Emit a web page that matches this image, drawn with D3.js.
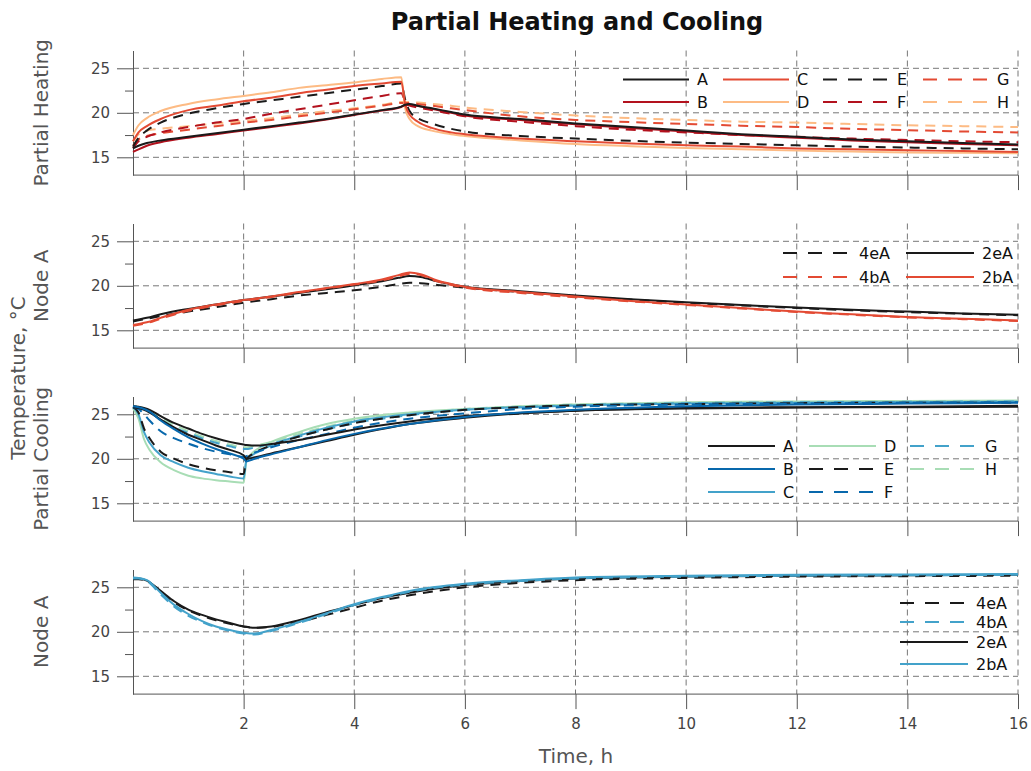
<!DOCTYPE html>
<html>
<head>
<meta charset="utf-8">
<script src="https://cdn.jsdelivr.net/npm/d3@7"></script>
<style>
  body { margin: 0; background: #fff; }
  text { font-family: "DejaVu Sans", Lato, sans-serif; fill: #444; }
  .axis path, .axis line { stroke: #555; }
  .axis text { font-size: 15px; fill: #444; font-family: "DejaVu Sans", sans-serif; }
  .grid line { stroke: #777; stroke-dasharray: 6,4; stroke-width: 1; }
</style>
</head>
<body>
<div id="chart"></div>
<script>
// ---- data: partial heating (panel 1) ----
const heatT = [0, 0.1, 0.25, 0.5, 1, 1.5, 2, 2.5, 3, 3.5, 4, 4.5, 4.85, 4.92, 5.0, 5.15, 5.4, 5.75, 6, 7, 8, 9, 10, 11, 12, 13, 14, 15, 16]
const heatA = [16.0, 16.3, 16.6, 16.9, 17.3, 17.7, 18.1, 18.5, 18.9, 19.3, 19.8, 20.3, 20.7, 20.9, 21.0, 20.8, 20.5, 20.1, 19.8, 19.3, 18.8, 18.4, 18.0, 17.6, 17.3, 17.0, 16.8, 16.6, 16.45]
const heatB = [15.6, 15.9, 16.3, 16.7, 17.2, 17.6, 18.0, 18.4, 18.8, 19.25, 19.75, 20.25, 20.65, 20.85, 20.9, 20.75, 20.45, 20.0, 19.7, 19.2, 18.7, 18.3, 17.9, 17.5, 17.2, 16.9, 16.7, 16.5, 16.35]
const heatC = [16.8, 17.8, 18.5, 19.3, 20.3, 20.8, 21.3, 21.7, 22.2, 22.6, 23.0, 23.3, 23.5, 21.0, 19.8, 19.0, 18.3, 17.8, 17.6, 17.1, 16.8, 16.55, 16.35, 16.2, 16.0, 15.9, 15.8, 15.7, 15.6]
const heatD = [17.5, 18.6, 19.4, 20.2, 21.0, 21.5, 21.9, 22.3, 22.8, 23.1, 23.4, 23.8, 24.0, 20.5, 19.3, 18.5, 18.0, 17.6, 17.4, 16.9, 16.5, 16.25, 16.05, 15.9, 15.75, 15.65, 15.55, 15.5, 15.45]
const heatE = [16.2, 17.2, 18.0, 18.9, 19.9, 20.5, 21.0, 21.4, 21.8, 22.2, 22.6, 23.0, 23.3, 21.5, 20.2, 19.4, 18.8, 18.2, 17.9, 17.4, 17.1, 16.85, 16.65, 16.5, 16.35, 16.2, 16.1, 16.0, 15.9]
const heatF = [16.0, 16.8, 17.3, 17.8, 18.4, 18.9, 19.3, 19.9, 20.4, 20.9, 21.4, 21.9, 22.2, 21.3, 20.8, 20.6, 20.3, 19.9, 19.6, 19.0, 18.5, 18.1, 17.8, 17.5, 17.3, 17.1, 16.95, 16.8, 16.7]
const heatG = [16.3, 17.0, 17.4, 17.7, 18.1, 18.5, 18.9, 19.2, 19.6, 20.0, 20.4, 20.8, 21.1, 21.1, 21.1, 21.0, 20.8, 20.5, 20.3, 19.6, 19.2, 18.95, 18.75, 18.55, 18.4, 18.2, 18.05, 17.9, 17.8]
const heatH = [16.8, 17.6, 18.0, 18.2, 18.5, 18.8, 19.1, 19.4, 19.8, 20.2, 20.5, 20.9, 21.2, 21.2, 21.2, 21.15, 21.0, 20.8, 20.6, 20.1, 19.7, 19.4, 19.2, 19.0, 18.9, 18.75, 18.6, 18.5, 18.4]

// ---- data: node A heating (panel 2) ----
const nodeHT = [0, 0.25, 0.5, 1, 1.5, 2, 2.5, 3, 3.5, 4, 4.5, 4.8, 5.0, 5.2, 5.5, 6, 7, 8, 9, 10, 11, 12, 13, 14, 15, 16]
const nodeH4e = [16.0, 16.3, 16.6, 17.1, 17.6, 18.1, 18.5, 18.9, 19.2, 19.5, 19.9, 20.2, 20.35, 20.3, 20.1, 19.8, 19.3, 18.85, 18.45, 18.1, 17.8, 17.5, 17.25, 17.05, 16.85, 16.7]
const nodeH4b = [15.5, 15.8, 16.3, 17.2, 17.8, 18.3, 18.75, 19.25, 19.7, 20.15, 20.6, 21.05, 21.35, 21.2, 20.5, 19.8, 19.2, 18.7, 18.25, 17.85, 17.45, 17.05, 16.75, 16.45, 16.25, 16.05]
const nodeH2e = [16.1, 16.4, 16.8, 17.4, 17.9, 18.4, 18.8, 19.2, 19.6, 20.05, 20.5, 20.9, 21.1, 21.0, 20.5, 19.9, 19.4, 18.9, 18.5, 18.15, 17.85, 17.55, 17.3, 17.1, 16.9, 16.75]
const nodeH2b = [15.6, 15.9, 16.4, 17.3, 17.9, 18.4, 18.8, 19.3, 19.75, 20.2, 20.7, 21.2, 21.5, 21.3, 20.6, 19.9, 19.3, 18.8, 18.3, 17.9, 17.5, 17.1, 16.8, 16.5, 16.3, 16.1]

// ---- data: partial cooling (panel 3) ----
const coolT = [0, 0.1, 0.2, 0.3, 0.5, 0.75, 1, 1.25, 1.5, 1.75, 2, 2.05, 2.15, 2.3, 2.5, 3, 3.5, 4, 5, 6, 7, 8, 10, 12, 14, 16]
const coolA = [25.8, 25.7, 25.5, 25.2, 24.4, 23.5, 22.7, 22.1, 21.5, 21.0, 20.4, 20.0, 20.1, 20.3, 20.6, 21.3, 22.0, 22.7, 23.9, 24.6, 25.1, 25.4, 25.7, 25.8, 25.85, 25.95]
const coolB = [25.9, 25.8, 25.6, 25.3, 24.3, 23.3, 22.4, 21.7, 21.1, 20.6, 20.0, 19.7, 19.9, 20.2, 20.5, 21.3, 22.1, 22.8, 23.9, 24.7, 25.2, 25.5, 25.9, 26.1, 26.2, 26.3]
const coolC = [25.8, 25.0, 23.0, 21.8, 20.4, 19.6, 19.0, 18.6, 18.3, 18.0, 17.8, 19.8, 20.4, 20.9, 21.5, 22.6, 23.5, 24.2, 25.0, 25.5, 25.8, 26.0, 26.2, 26.3, 26.35, 26.4]
const coolD = [25.7, 24.5, 22.2, 21.0, 19.6, 18.7, 18.1, 17.8, 17.6, 17.45, 17.3, 19.8, 20.6, 21.3, 21.9, 23.0, 23.9, 24.5, 25.2, 25.6, 25.9, 26.1, 26.35, 26.45, 26.5, 26.55]
const coolE = [25.8, 25.2, 23.4, 22.3, 20.8, 20.0, 19.4, 19.0, 18.7, 18.5, 18.3, 20.0, 20.5, 21.0, 21.5, 22.5, 23.3, 24.0, 24.9, 25.5, 25.8, 26.0, 26.15, 26.25, 26.3, 26.3]
const coolF = [25.8, 25.6, 25.0, 24.3, 23.1, 22.3, 21.7, 21.2, 20.8, 20.5, 20.2, 20.3, 20.6, 20.9, 21.3, 22.1, 22.8, 23.5, 24.5, 25.1, 25.6, 25.85, 26.1, 26.2, 26.3, 26.35]
const coolG = [25.9, 25.8, 25.6, 25.3, 24.4, 23.5, 22.9, 22.3, 21.8, 21.4, 21.1, 21.1, 21.2, 21.4, 21.7, 22.5, 23.3, 24.0, 24.9, 25.5, 25.8, 26.0, 26.25, 26.35, 26.4, 26.45]
const coolH = [25.9, 25.8, 25.7, 25.4, 24.6, 23.8, 23.1, 22.5, 22.0, 21.6, 21.3, 21.3, 21.4, 21.6, 21.9, 22.8, 23.6, 24.3, 25.1, 25.6, 25.9, 26.1, 26.3, 26.4, 26.45, 26.5]
// extra black curve drawn in the cooling panel without legend entry
const coolX = [25.9, 25.85, 25.7, 25.5, 24.8, 24.0, 23.4, 22.8, 22.3, 21.9, 21.6, 21.55, 21.5, 21.5, 21.65, 22.1, 22.7, 23.3, 24.2, 24.8, 25.15, 25.4, 25.65, 25.75, 25.8, 25.85]

// ---- data: node A cooling (panel 4) ----
const nodeCT = [0, 0.1, 0.25, 0.5, 0.75, 1, 1.25, 1.5, 1.75, 2, 2.2, 2.5, 3, 3.5, 4, 4.5, 5, 6, 7, 8, 10, 12, 14, 16]
const nodeC4e = [25.9, 25.9, 25.7, 24.5, 23.3, 22.4, 21.8, 21.3, 20.9, 20.6, 20.45, 20.55, 21.1, 21.9, 22.7, 23.5, 24.1, 25.0, 25.5, 25.8, 26.05, 26.2, 26.25, 26.3]
const nodeC4b = [26.0, 26.0, 25.7, 24.2, 22.8, 21.8, 21.1, 20.5, 20.1, 19.8, 19.7, 20.1, 21.0, 22.0, 23.0, 23.8, 24.5, 25.3, 25.7, 26.0, 26.2, 26.3, 26.35, 26.4]
const nodeC2e = [26.0, 26.0, 25.75, 24.6, 23.4, 22.5, 21.9, 21.4, 21.0, 20.6, 20.45, 20.6, 21.3, 22.2, 23.0, 23.8, 24.4, 25.25, 25.7, 26.0, 26.2, 26.3, 26.35, 26.4]
const nodeC2b = [26.1, 26.05, 25.8, 24.4, 23.0, 22.0, 21.2, 20.6, 20.2, 19.9, 19.8, 20.2, 21.1, 22.1, 23.1, 23.9, 24.6, 25.4, 25.8, 26.1, 26.3, 26.4, 26.45, 26.5]

const xTicks = [2, 4, 6, 8, 10, 12, 14, 16]
const yTicks = [15, 20, 25]
const yMinor = [17.5, 22.5]

const panelNames = ["Partial Heating", "Node A", "Partial Cooling", "Node A"]

// colors
const BLACK = "#1a1a1a"
const RED_D = "#b3121e", RED = "#e34a33", ORANGE = "#fdbb84"
const BLUE_D = "#0868ac", BLUE = "#43a2ca", GREEN = "#a8ddb5"

function mk(name, t, v, color, dash) { return { name, t, v, color, dash } }

const panels = [
  {
    series: [
      mk("A", heatT, heatA, BLACK, false), mk("B", heatT, heatB, RED_D, false),
      mk("C", heatT, heatC, RED, false), mk("D", heatT, heatD, ORANGE, false),
      mk("E", heatT, heatE, BLACK, true), mk("F", heatT, heatF, RED_D, true),
      mk("G", heatT, heatG, RED, true), mk("H", heatT, heatH, ORANGE, true)
    ],
    drawOrder: ["H", "G", "F", "E", "D", "C", "B", "A"],
    legend: { cols: 4, rows: 2, x0: 623, y0: 79.5, colW: 100, rowH: 22.5, lineW: 66 }
  },
  {
    series: [
      mk("4eA", nodeHT, nodeH4e, BLACK, true), mk("4bA", nodeHT, nodeH4b, RED, true),
      mk("2eA", nodeHT, nodeH2e, BLACK, false), mk("2bA", nodeHT, nodeH2b, RED, false)
    ],
    drawOrder: ["4eA", "2eA", "4bA", "2bA"],
    legend: { cols: 2, rows: 2, x0: 783, y0: 253, colW: 123, rowH: 24, lineW: 68 }
  },
  {
    series: [
      mk("A", coolT, coolA, BLACK, false), mk("B", coolT, coolB, BLUE_D, false),
      mk("C", coolT, coolC, BLUE, false), mk("D", coolT, coolD, GREEN, false),
      mk("E", coolT, coolE, BLACK, true), mk("F", coolT, coolF, BLUE_D, true),
      mk("G", coolT, coolG, BLUE, true), mk("H", coolT, coolH, GREEN, true),
      mk("", coolT, coolX, BLACK, false)
    ],
    drawOrder: ["H", "D", "G", "C", "E", "F", "", "A", "B"],
    legend: { cols: 3, rows: 3, x0: 708, y0: 446, colW: 101, rowH: 23, lineW: 67 }
  },
  {
    series: [
      mk("4eA", nodeCT, nodeC4e, BLACK, true), mk("4bA", nodeCT, nodeC4b, BLUE, true),
      mk("2eA", nodeCT, nodeC2e, BLACK, false), mk("2bA", nodeCT, nodeC2b, BLUE, false)
    ],
    drawOrder: ["4eA", "2eA", "4bA", "2bA"],
    legend: { cols: 1, rows: 4, x0: 900, y0: 603, colW: 0, rowH: 20, lineW: 68, rowY: [603, 622, 642, 664] }
  }
]

const W = 1031, H = 771
const LEFT = 133, RIGHT = 1018
const PANEL_TOP = 50.5, PANEL_STEP = 173, PANEL_H = 124.6

const svg = d3.select("#chart").append("svg")
  .attr("width", W)
  .attr("height", H)

const x = d3.scaleLinear().domain([0, 16]).range([LEFT, RIGHT])

svg.append("text")
  .attr("x", 577).attr("y", 30)
  .attr("text-anchor", "middle")
  .style("font-size", "24px")
  .style("font-weight", "bold")
  .style("fill", "#111")
  .text("Partial Heating and Cooling")

panels.forEach(function(p, i) {
  const top = PANEL_TOP + i * PANEL_STEP
  const y = d3.scaleLinear().domain([13, 27]).range([top + PANEL_H, top])
  const g = svg.append("g")

  // grid
  const grid = g.append("g").attr("class", "grid")
  grid.selectAll(".hg").data(yTicks).enter().append("line")
    .attr("x1", LEFT).attr("x2", RIGHT)
    .attr("y1", d => y(d)).attr("y2", d => y(d))
  grid.selectAll(".vg").data(xTicks).enter().append("line")
    .attr("x1", d => x(d)).attr("x2", d => x(d))
    .attr("y1", top).attr("y2", top + PANEL_H)

  // axes
  g.append("g").attr("class", "axis")
    .attr("transform", `translate(${LEFT},0)`)
    .call(d3.axisLeft(y).tickValues(yTicks).tickSize(16).tickSizeOuter(0).tickPadding(7))
  g.append("g").attr("class", "axis")
    .attr("transform", `translate(${LEFT},0)`)
    .call(d3.axisLeft(y).tickValues(yMinor).tickSize(8).tickSizeOuter(0).tickFormat(""))
    .select(".domain").remove()
  const xa = g.append("g").attr("class", "axis")
    .attr("transform", `translate(0,${top + PANEL_H})`)
    .call(d3.axisBottom(x).tickValues(xTicks).tickSize(15).tickSizeOuter(0).tickPadding(9)
      .tickFormat(i === panels.length - 1 ? d3.format("d") : ""))
  xa.select(".domain").attr("d", `M${x(0)},0H${x(16)}`)

  // lines
  const line = d3.line()
    .x(d => x(d[0]))
    .y(d => y(d[1]))
    .curve(d3.curveMonotoneX)

  const byName = {}
  p.series.forEach(s => byName[s.name] = s)
  p.drawOrder.forEach(function(n) {
    const s = byName[n]
    g.append("path")
      .datum(s.t.map((t, k) => [t, s.v[k]]))
      .attr("fill", "none")
      .attr("stroke", s.color)
      .attr("stroke-width", 2)
      .attr("stroke-dasharray", s.dash ? "10,7" : null)
      .attr("d", line)
  })

  // legend (column-major)
  const L = p.legend
  const leg = g.append("g")
  p.series.filter(s => s.name !== "").forEach(function(s, k) {
    const c = Math.floor(k / L.rows), r = k % L.rows
    const lx = L.x0 + c * L.colW
    const ly = L.rowY ? L.rowY[r] : L.y0 + r * L.rowH
    leg.append("line")
      .attr("x1", lx).attr("x2", lx + L.lineW)
      .attr("y1", ly).attr("y2", ly)
      .attr("stroke", s.color)
      .attr("stroke-width", 2)
      .attr("stroke-dasharray", s.dash ? "14,11" : null)
    leg.append("text")
      .attr("x", lx + L.lineW + 8).attr("y", ly)
      .attr("dy", "0.36em")
      .style("font-size", "16px")
      .style("fill", "#111")
      .text(s.name)
  })

  // panel label
  svg.append("text")
    .attr("transform", `translate(48,${top + PANEL_H / 2}) rotate(-90)`)
    .attr("text-anchor", "middle")
    .style("font-size", "20px")
    .style("fill", "#555")
    .text(panelNames[i])
})

svg.append("text")
  .attr("transform", "translate(25,378) rotate(-90)")
  .attr("text-anchor", "middle")
  .style("font-size", "20px")
  .style("fill", "#555")
  .text("Temperature, °C")

svg.append("text")
  .attr("x", 576).attr("y", 763)
  .attr("text-anchor", "middle")
  .style("font-size", "20px")
  .style("fill", "#555")
  .text("Time, h")
</script>
</body>
</html>
